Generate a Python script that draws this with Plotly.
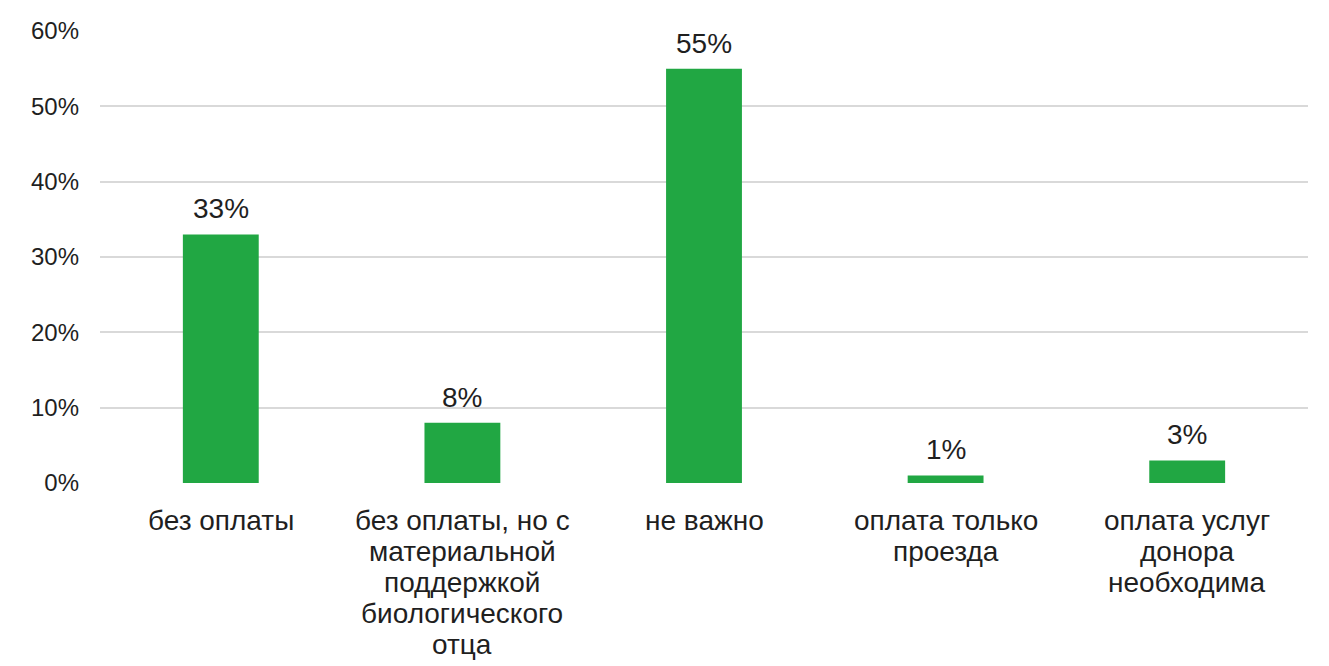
import plotly.graph_objects as go

categories = [
    "без оплаты",
    "без оплаты, но с материальной поддержкой биологического отца",
    "не важно",
    "оплата только проезда",
    "оплата услуг донора необходима",
]
category_lines = [
    ["без оплаты"],
    ["без оплаты, но с", "материальной", "поддержкой", "биологического", "отца"],
    ["не важно"],
    ["оплата только", "проезда"],
    ["оплата услуг", "донора", "необходима"],
]
values = [33, 8, 55, 1, 3]
tick_vals = [0, 10, 20, 30, 40, 50, 60]
tick_text = ["0%", "10%", "20%", "30%", "40%", "50%", "60%"]

font_family = "Liberation Sans, Arial, sans-serif"
text_color = "#1f1f1f"

fig = go.Figure(
    go.Bar(
        x=categories,
        y=values,
        marker=dict(color="#21A743", line=dict(width=0)),
        hoverinfo="x+y",
    )
)

annotations = []
# value labels above bars
for c, v in zip(categories, values):
    annotations.append(dict(
        x=c, y=v, xref="x", yref="y",
        text=f"{v}%", showarrow=False,
        yanchor="bottom", yshift=8,
        font=dict(family=font_family, size=28, color=text_color),
    ))
# category labels (multi-line, tight spacing)
for c, lines in zip(categories, category_lines):
    for i, line in enumerate(lines):
        annotations.append(dict(
            x=c, y=0, xref="x", yref="y",
            text=line, showarrow=False,
            yanchor="middle", yshift=-37 - i * 31,
            font=dict(family=font_family, size=28, color=text_color),
        ))

# the page body adds an 8px offset, so margins are compensated
fig.update_layout(
    width=1329,
    height=666,
    margin=dict(l=92, r=29, t=23, b=191),
    paper_bgcolor="white",
    plot_bgcolor="white",
    bargap=0.686,
    showlegend=False,
    font=dict(family=font_family, size=24, color=text_color),
    annotations=annotations,
)
fig.update_yaxes(
    range=[0, 60],
    tickvals=tick_vals,
    ticktext=tick_text,
    showgrid=True,
    gridcolor="#D9D9D9",
    gridwidth=1.5,
    zeroline=False,
    showline=False,
    ticks="",
    automargin=False,
    ticklabelstandoff=20,
    tickfont=dict(family=font_family, size=24, color=text_color),
)
fig.update_xaxes(
    showline=False,
    showgrid=False,
    ticks="",
    showticklabels=False,
    automargin=False,
)

fig.write_html("out.html")
